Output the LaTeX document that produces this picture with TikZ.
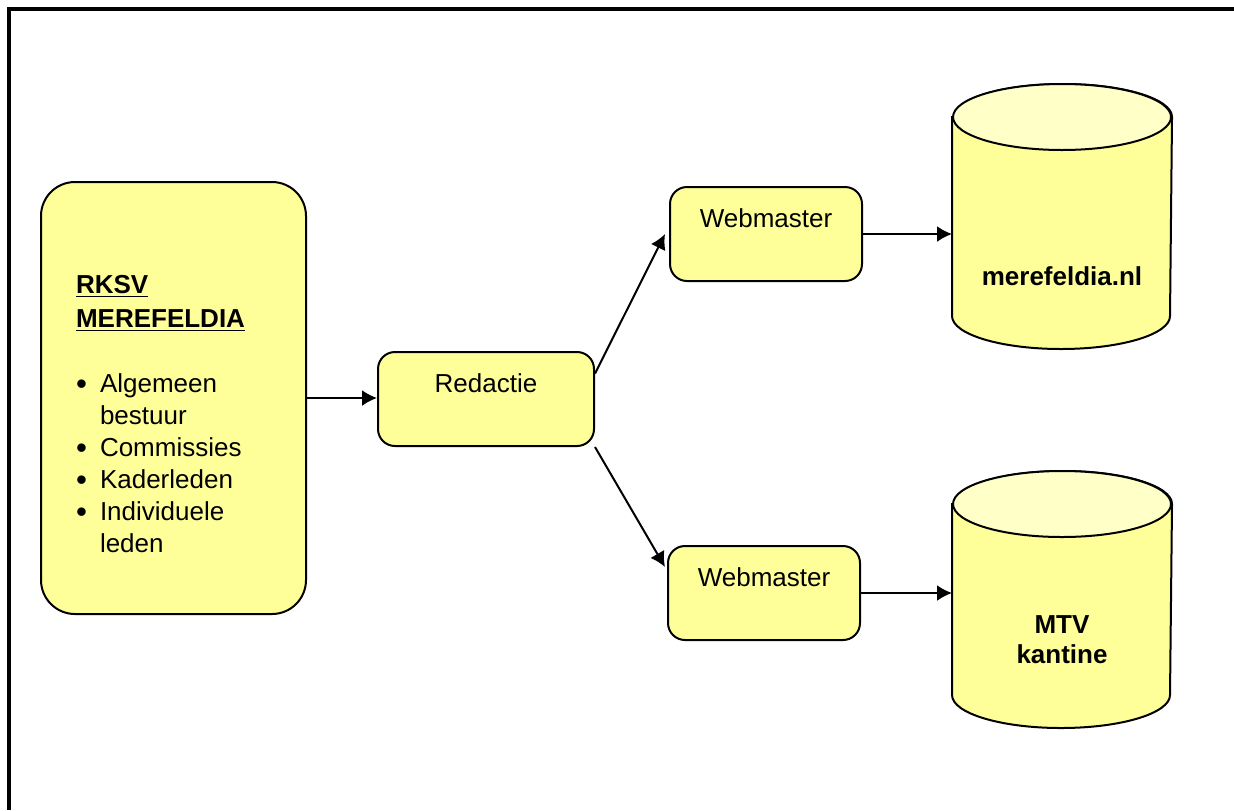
\documentclass[tikz,border=0pt]{standalone}
\usepackage{fontspec}
\setmainfont{Liberation Sans}
\usetikzlibrary{arrows.meta}
\usepackage{color}
\definecolor{boxyellow}{HTML}{FFFF99}
\definecolor{topyellow}{HTML}{FFFFC8}

\newcommand{\bulletline}[1]{\makebox[12pt][l]{\raisebox{-0.7pt}{\scalebox{1.2}{\textbullet}}}#1}
\newcommand{\hangline}[1]{\hspace*{12pt}#1}
%% cylinder drawn on the anchors of a plain node
\newcommand{\drum}[1]{%
        \draw [fill=boxyellow] ([yshift=-16.5pt]#1.north west) -- ([yshift=16.5pt]#1.south west)
                arc [start angle=180, end angle=360, x radius=54.5pt, y radius=16.5pt]
                -- ([yshift=-16.5pt]#1.north east)
                arc [start angle=0, end angle=180, x radius=54.5pt, y radius=16.5pt] -- cycle;
        \draw [fill=topyellow] ([yshift=-16.5pt]#1.north) ellipse [x radius=54.5pt, y radius=16.5pt];}

\begin{document}
\begin{tikzpicture}[x=0.5pt, y=-0.5pt, line width=1pt,
                font=\fontsize{13}{16}\selectfont,
                block/.style={draw, rectangle, rounded corners=8.5pt, fill=boxyellow,
                        anchor=north, inner xsep=0pt, inner ysep=0pt,
                        text height=20pt, text depth=27pt},
                store/.style={rectangle, minimum width=109pt, inner sep=0pt},
                flow/.style={-{Latex[length=7.5pt,width=8pt]}}]
        \useasboundingbox (0,0) rectangle (1234,810);

%% frame
        \draw [line width=2pt] (1234,9) -- (9,9) -- (9,810);

%% nodes
        \node [draw, rectangle, rounded corners=17pt, fill=boxyellow, minimum width=132.5pt,
                minimum height=216pt, inner sep=0pt] (board) at (173.5,398) {};
        \node [anchor=north west, align=left, inner sep=0pt] (members) at (75,274.5)
                {\underline{\textbf{RKSV}}\\[1pt]
                 \underline{\textbf{MEREFELDIA}}\\[16.5pt]
                 \bulletline{Algemeen}\\
                 \hangline{bestuur}\\
                 \bulletline{Commissies}\\
                 \bulletline{Kaderleden}\\
                 \bulletline{Individuele}\\
                 \hangline{leden}};
        \node [block, minimum width=108pt] (redactie) at (486,351) {Redactie};
        \node [block, minimum width=96pt] (webtop) at (766,186) {Webmaster};
        \node [block, minimum width=96pt] (webbottom) at (764,545) {Webmaster};
        \node [store, minimum height=131.5pt] (site) at (1062,216.5) {};
        \node [store, minimum height=127.5pt] (kantine) at (1062,599.5) {};
        \drum{site}
        \drum{kantine}
        \node [font=\fontsize{13}{15}\selectfont\bfseries, anchor=base] (sitename) at (1062,285) {merefeldia.nl};
        \node [font=\fontsize{13}{15}\selectfont\bfseries, align=center, anchor=north, inner sep=0pt]
                (kantinename) at (1062,614.5) {MTV\\kantine};

%% paths
        \path [flow]
                (board.east) edge (board.east -| redactie.west)
                ([yshift=12.75pt]redactie.east) edge ([xshift=-2pt]webtop.west)
                (redactie.south east) edge ([xshift=-1pt, yshift=13pt]webbottom.west)
                (webtop.east) edge (webtop.east -| site.west)
                (webbottom.east) edge (webbottom.east -| kantine.west)
                ;
\end{tikzpicture}
\end{document}
